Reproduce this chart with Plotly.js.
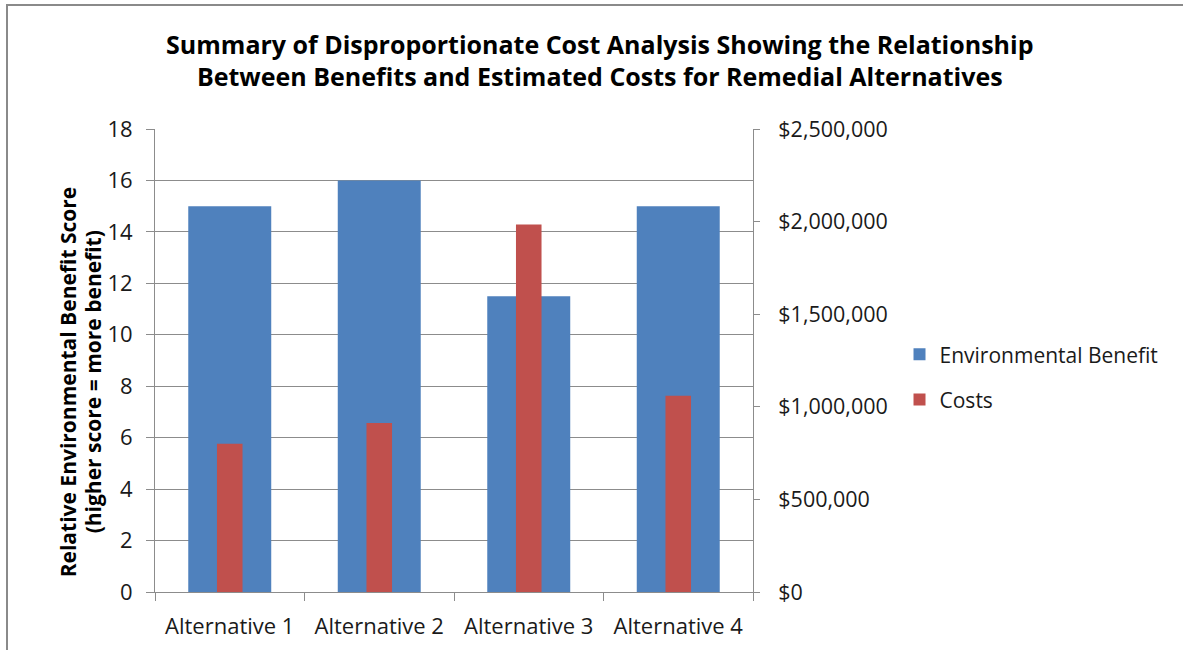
<!DOCTYPE html>
<html>
<head>
<meta charset="utf-8">
<script src="https://cdn.plot.ly/plotly-3.0.1.min.js"></script>
<style>
  html, body { margin: 0; padding: 0; background: #fff; }
  #wrap { position: relative; width: 1183px; height: 650px; overflow: hidden; }
  #frame { position: absolute; left: 6px; top: 4px; width: 1190px; height: 700px;
           border-left: 2px solid #8a8a8a; border-top: 2px solid #8a8a8a; box-sizing: border-box; }
  #chart { position: absolute; left: 0; top: 0; width: 1183px; height: 650px; }
</style>
</head>
<body>
<div id="wrap">
  <div id="chart"></div>
  <div id="frame"></div>
</div>
<script>
const categories = ["Alternative 1", "Alternative 2", "Alternative 3", "Alternative 4"];
const benefitScores = [15, 16, 11.5, 15];
const costs = [800000, 913000, 1985000, 1060000];
const seriesNames = ["Environmental Benefit", "Costs"];
const titleLines = ["Summary of Disproportionate Cost Analysis Showing the Relationship",
                    "Between Benefits and Estimated Costs for Remedial Alternatives"];
const yTitleLines = ["Relative Environmental Benefit Score", "(higher score = more benefit)"];

const FONT = '"Open Sans", "Noto Sans", sans-serif';
const axisGray = '#8c8c8c';
const textColor = '#1a1a1a';

const traces = [
  {
    type: 'bar', name: seriesNames[0], x: categories, y: benefitScores,
    yaxis: 'y', width: 0.555, marker: {color: '#4F81BD'},
    legendgroup: 'a'
  },
  {
    type: 'bar', name: seriesNames[1], x: categories, y: costs,
    yaxis: 'y2', width: 0.171, marker: {color: '#C0504D'},
    legendgroup: 'b'
  }
];

const yTitleX = [-0.1455, -0.1037];
const layout = {
  width: 1183, height: 650,
  paper_bgcolor: 'rgba(0,0,0,0)', plot_bgcolor: '#fff',
  font: {family: FONT, size: 22, color: textColor},
  margin: {l: 155, r: 430, t: 129, b: 58},
  barmode: 'overlay',
  title: {
    text: titleLines.join('<br>'),
    font: {family: FONT, size: 25, color: '#000', weight: 'bold'},
    x: 0.507, xanchor: 'center', y: 0.917, yanchor: 'middle'
  },
  xaxis: {
    type: 'category', showline: true, linecolor: axisGray, linewidth: 1,
    ticks: 'outside', tickson: 'boundaries', ticklen: 8, tickcolor: axisGray,
    tickfont: {size: 22, color: textColor}, showgrid: false, zeroline: false,
    ticklabelstandoff: 15
  },
  yaxis: {
    range: [0, 18], dtick: 2, tick0: 0, showline: true, linecolor: axisGray,
    ticks: 'outside', ticklen: 8, tickcolor: axisGray,
    showgrid: true, gridcolor: axisGray, gridwidth: 1, zeroline: false,
    tickfont: {size: 22, color: textColor}, ticklabelstandoff: 9
  },
  yaxis2: {
    overlaying: 'y', side: 'right', range: [0, 2500000], dtick: 500000, tick0: 0,
    tickprefix: '$', tickformat: ',d', showline: true, linecolor: axisGray,
    ticks: 'outside', ticklen: 6, tickcolor: axisGray, showgrid: false, zeroline: false,
    tickfont: {size: 21.5, color: textColor}, ticklabelstandoff: 14
  },
  legend: {
    x: 1.245, xanchor: 'left', y: 0.464, yanchor: 'middle',
    font: {size: 21, color: textColor}, traceorder: 'grouped', tracegroupgap: 15,
    bgcolor: 'rgba(0,0,0,0)'
  },
  annotations: yTitleLines.map((t, i) => ({
    text: t, textangle: -90,
    xref: 'paper', yref: 'paper', x: yTitleX[i], y: 0.455,
    xanchor: 'center', yanchor: 'middle', showarrow: false,
    font: {family: FONT, size: 21, color: '#000', weight: 'bold'}
  })),
  showlegend: true
};

Plotly.newPlot('chart', traces, layout, {displayModeBar: false, staticPlot: true});
</script>
</body>
</html>
